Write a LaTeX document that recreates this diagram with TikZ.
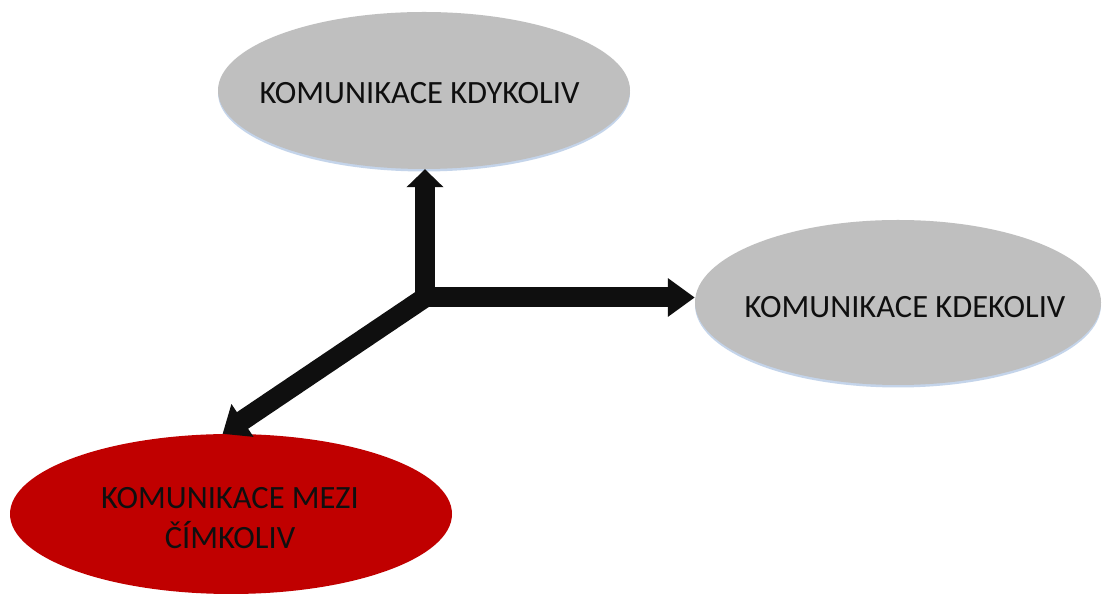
\documentclass[tikz,border=0pt]{standalone}
\usepackage{fontspec}
\setmainfont{Carlito}
\usetikzlibrary{arrows.meta,shapes.geometric,shadows}
\definecolor{bubblegray}{RGB}{191,191,191}
\definecolor{bubblered}{RGB}{192,0,0}
\definecolor{rimblue}{RGB}{190,208,232}
\definecolor{inkblack}{RGB}{15,15,15}
\begin{document}
\begin{tikzpicture}[x=1pt,y=1pt,
  bubble/.style={ellipse, inner sep=0pt, draw=none},
  graybubble/.style={bubble, fill=bubblegray,
    drop shadow={shadow xshift=0pt, shadow yshift=-2.5pt, fill=rimblue, opacity=0.9}},
  redbubble/.style={bubble, fill=bubblered},
  caption/.style={font=\fontsize{32.5}{40}\selectfont, text=inkblack,
    inner sep=0pt, align=center},
  shaft/.style={line width=20pt, draw=inkblack, line join=miter},
]
\useasboundingbox[fill=white] (0,0) rectangle (1102,596);

% the three bubbles
\node[graybubble, minimum width=412pt, minimum height=157pt] (when) at (424,505.5) {};
\node[graybubble, minimum width=406pt, minimum height=165pt] (where) at (898,293.5) {};
\node[redbubble, minimum width=442pt, minimum height=160pt] (what) at (231,82) {};

\node[caption] (whenText) at (419.5,503) {KOMUNIKACE KDYKOLIV};
\node[caption] (whereText) at (905,288.5) {KOMUNIKACE KDEKOLIV};
\node[caption] (whatText) at (230,77.5) {KOMUNIKACE MEZI\\ČÍMKOLIV};

% branching point of the arrows
\coordinate (hub) at (425,298.5);

% up and right arrows share one corner
\draw[shaft, {Triangle[length=18pt,width=36pt]}-{Triangle[length=27pt,width=37pt]}]
  (hub |- when.south) -- (hub) -- (hub -| where.west);
% down-left arrow
\draw[shaft, -{Triangle[length=24pt,width=38pt]}] (hub) -- (what.96);
\end{tikzpicture}
\end{document}
